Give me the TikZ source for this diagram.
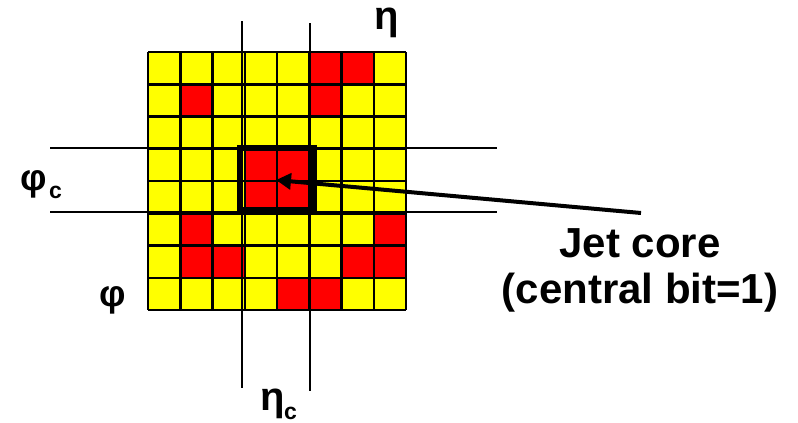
\documentclass[tikz,border=0pt]{standalone}
\usepackage{fontspec}
\setmainfont{Liberation Sans}
\usetikzlibrary{arrows.meta}
\definecolor{cellyellow}{RGB}{255,255,0}
\definecolor{cellred}{RGB}{255,0,0}
\begin{document}
\begin{tikzpicture}[x=1pt,y=-1pt,
  gridline/.style={line width=2.5pt,black},
  axisline/.style={line width=2pt,black},
  etalbl/.style={font=\bfseries\fontsize{40}{44}\selectfont,inner sep=0pt},
  philbl/.style={font=\bfseries\fontsize{37}{40}\selectfont,inner sep=0pt},
  sub/.style={font=\bfseries\fontsize{23}{25}\selectfont,inner sep=0pt},
  bigtext/.style={font=\bfseries\fontsize{42}{47}\selectfont,inner sep=0pt,anchor=base},
  corebox/.style={draw,line width=6pt,inner sep=0pt,minimum width=74pt,minimum height=62pt}]
\useasboundingbox (0,0) rectangle (798,423);
\def\cs{32.25}
% yellow background
\fill[cellyellow] (148,52) rectangle (406,310);
% red cells (row,col)
\foreach \r/\c in {0/5,0/6,1/1,1/5,3/3,3/4,4/3,4/4,5/1,5/7,6/1,6/2,6/6,6/7,7/4,7/5}{
  \fill[cellred] ({148+\c*\cs},{52+\r*\cs}) rectangle ({148+(\c+1)*\cs},{52+(\r+1)*\cs});
}
% grid
\foreach \i in {0,...,8}{
  \draw[gridline] ({148+\i*\cs},52) -- ({148+\i*\cs},310);
  \draw[gridline] (148,{52+\i*\cs}) -- (406,{52+\i*\cs});
}
% axis lines
\coordinate (v1t) at (242,21); \coordinate (v1b) at (242,388);
\coordinate (v2t) at (310,23); \coordinate (v2b) at (310,391);
\coordinate (h1l) at (50,148); \coordinate (h1r) at (497,148);
\coordinate (h2l) at (50,212); \coordinate (h2r) at (497,212);
\draw[axisline] (v1t) -- (v1b);
\draw[axisline] (v2t) -- (v2b);
\draw[axisline] (h1l) -- (h1r);
\draw[axisline] (h2l) -- (h2r);
% core box
\node[corebox] (core) at (277,179) {};
% labels
\node[etalbl,anchor=base] (eta) at (387,29) {η};
\node[philbl] (phic) at (34,184) {φ};
\node[sub,anchor=south west] (phicsub) at (49,199) {c};
\node[philbl] (phi) at (113,300) {φ};
\node[etalbl] (etac) at (273,404) {η};
\node[sub,anchor=south west] (etacsub) at (284,420) {c};
\node[bigtext] (jet1) at (640,257) {Jet core};
\node[bigtext] (jet2) at (640,303) {(central bit=1)};
\coordinate (arrstart) at (641,213);
\coordinate (arrtip) at (276,180);
\draw[line width=4pt,-{Triangle[length=15pt,width=16pt]}] (arrstart) -- (arrtip);
\end{tikzpicture}
\end{document}
